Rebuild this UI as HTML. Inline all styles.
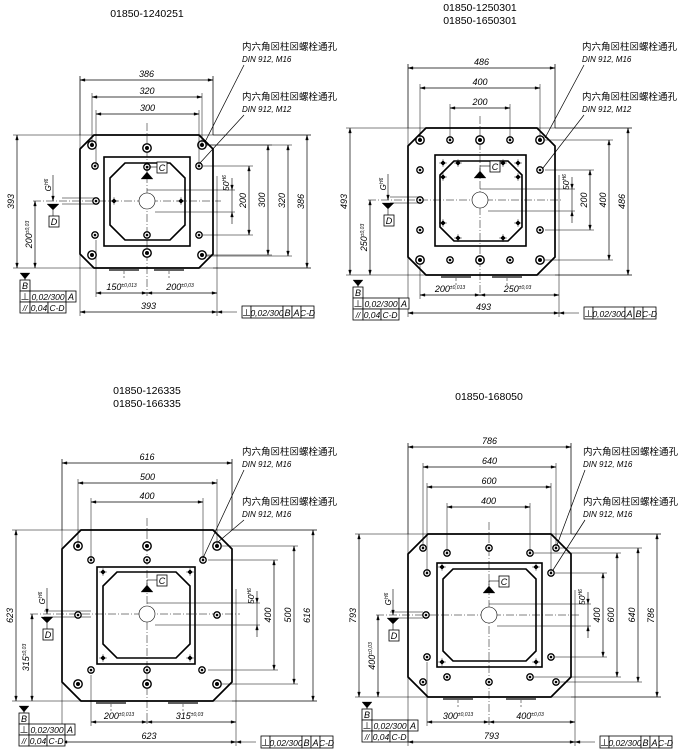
<!DOCTYPE html>
<html><head><meta charset="utf-8"><style>
html,body{margin:0;padding:0;background:#fff}
svg{display:block}
text{font-family:"Liberation Sans Narrow","Liberation Sans","Noto Sans CJK SC",sans-serif;fill:#000}
</style></head><body>
<svg id="s" width="684" height="750" viewBox="0 0 684 750" xmlns="http://www.w3.org/2000/svg"></svg>
<script>
const S=[];
function L(x1,y1,x2,y2,w,d){S.push(`<line x1="${x1}" y1="${y1}" x2="${x2}" y2="${y2}" stroke="#000" stroke-width="${w||0.7}"${d?` stroke-dasharray="${d}"`:''}/>`);}
function P(pts,fill,w){S.push(`<polygon points="${pts}" fill="${fill||'none'}" stroke="#000" stroke-width="${w||0.7}"/>`);}
function R(x,y,w,h,sw){S.push(`<rect x="${x}" y="${y}" width="${w}" height="${h}" fill="#fff" stroke="#000" stroke-width="${sw||0.8}"/>`);}
function C(x,y,r,w,fill){S.push(`<circle cx="${x}" cy="${y}" r="${r}" fill="${fill||'#fff'}" stroke="#000" stroke-width="${w||1}"/>`);}
function T(x,y,s,sz,anc,it,rot){S.push(`<text x="${x}" y="${y}" font-size="${sz||9}" text-anchor="${anc||'middle'}"${it?' font-style="italic"':''}${rot?` transform="rotate(-90 ${x} ${y})"`:''}>${s}</text>`);}
function A(x,y,dx,dy){const bx=x-dx*5,by=y-dy*5,px=-dy*1.4,py=dx*1.4;P(`${x},${y} ${bx+px},${by+py} ${bx-px},${by-py}`,'#000',0.3);}
function hdim(x1,x2,y,t){L(x1,y,x2,y);A(x1,y,-1,0);A(x2,y,1,0);T((x1+x2)/2,y-3,t,9,'middle',1);}
function vdim(x,y1,y2,t){L(x,y1,x,y2);A(x,y1,0,-1);A(x,y2,0,1);T(x-3,(y1+y2)/2,t,9,'middle',1,1);}
function frameL(x,y){R(x,y,10,11);T(x+5,y+9,'B',9,'middle',1);
 R(x,y+11,10,11);T(x+5,y+20,'⊥',9);R(x+10,y+11,36,11);T(x+28,y+20,'0,02/300',8.5,'middle',1);R(x+46,y+11,10,11);T(x+51,y+20,'A',9,'middle',1);
 R(x,y+22,10,11);T(x+5,y+31,'//',8,'middle',1);R(x+10,y+22,18,11);T(x+19,y+31,'0,04',8.5,'middle',1);R(x+28,y+22,18,11);T(x+37,y+31,'C-D',8.5,'middle',1);
 L(x+5,y,x+5,y-6);P(`${x},${y-7} ${x+10},${y-7} ${x+5},${y-1}`,'#000',0.3);}
function frameR(x,y,a,b){R(x,y,9,12);T(x+4.5,y+10,'⊥',9);R(x+9,y,32,12);T(x+25,y+10,'0,02/300',8.5,'middle',1);R(x+41,y,9,12);T(x+45.5,y+10,a,9,'middle',1);R(x+50,y,9,12);T(x+54.5,y+10,b,9,'middle',1);R(x+59,y,13,12);T(x+65.5,y+10,'C-D',8.5,'middle',1);}
function oct(x1,y1,x2,y2,c,w){P(`${x1+c},${y1} ${x2-c},${y1} ${x2},${y1+c} ${x2},${y2-c} ${x2-c},${y2} ${x1+c},${y2} ${x1},${y2-c} ${x1},${y1+c}`,'none',w);}
function big(x,y){C(x,y,4.2,1.4);C(x,y,1.6,0.8,'#000');}
function sml(x,y){C(x,y,3.2,1.3);C(x,y,1,0.6,'#000');}
function dia(x,y){P(`${x},${y-2.5} ${x+2.5},${y} ${x},${y+2.5} ${x-2.5},${y}`,'#000',0.3);L(x-4,y,x+4,y,0.4);L(x,y-4,x,y+4,0.4);}
function leader(x,y,tx,ty,m){T(x,y,'内六角⊠柱⊠螺栓通孔',9.5,'start');T(x,y+12,'DIN 912, '+m,8,'start',1);L(x+2,y+15,tx,ty,0.7);}
function draw(o){
 const {l,r,t,b,c,cx,cy}=o;
 const rmax=o.right[o.right.length-1][2];
 L(o.lx1-4,t,rmax+4,t,0.5);L(o.lx1-4,b,rmax+4,b,0.5);
 L(l,o.top[0][2]-4,l,o.ty+4,0.5);L(r,o.top[0][2]-4,r,t,0.5);L(r+4,cy-25,r+4,o.ty+4,0.5);
 oct(l,t,r,b,c,1.7);
 R(o.ir[0],o.ir[1],o.ir[2]-o.ir[0],o.ir[3]-o.ir[1],1.6);
 oct(o.oc[0],o.oc[1],o.oc[2],o.oc[3],o.oc[4],1.6);
 L(cx,t-12,cx,o.by+3,0.5,'8,2,1,2');L(o.lx2-2,cy,r+8,cy,0.5,'8,2,1,2');
 L(l+c+15,b+2,l+c+45,b+2,1.2);L(r-c-45,b+2,r-c-15,b+2,1.2);
 L(l-18,cy-3,o.sx,cy-3,0.6);L(l-18,cy+3,o.sx,cy+3,0.6);
 C(cx,cy,8,0.6);
 o.big.forEach(p=>big(p[0],p[1]));o.sml.forEach(p=>sml(p[0],p[1]));o.dia.forEach(p=>dia(p[0],p[1]));
 o.top.forEach(d=>{hdim(d[0],d[1],d[2],d[3]);L(d[0],d[2]-4,d[0],d[4],0.5);L(d[1],d[2]-4,d[1],d[4],0.5);});
 o.right.forEach(d=>{vdim(d[2],d[0],d[1],d[3]);L(d[4],d[0],d[2]+4,d[0],0.5);L(d[4],d[1],d[2]+4,d[1],0.5);});
 const fx=o.fx;L(cx,cy-11,fx+3,cy-11,0.5);L(cx+8,cy+11,fx+3,cy+11,0.5);L(fx,cy-23,fx,cy+23,0.6);A(fx,cy-11,0,1);A(fx,cy+11,0,-1);
 T(fx-3,cy-18,'50<tspan font-size="5" dy="-3">H6</tspan>',8.5,'middle',1,1);
 vdim(o.lx1,t,b,o.lt1);vdim(o.lx2,cy,b,o.lt2+'<tspan font-size="5" dy="-3">±0,03</tspan>');
 const gx=o.gx;L(gx,cy-26,gx,cy,0.6);A(gx,cy,0,1);T(gx-2,cy-16,'G<tspan font-size="5" dy="-3">H6</tspan>',8,'middle',1,1);
 P(`${gx-6},${cy+3} ${gx+6},${cy+3} ${gx},${cy+9}`,'#000',0.3);L(gx,cy+9,gx,cy+15,0.6);R(gx-4,cy+15,10,11);T(gx+1,cy+24,'D',9,'middle',1);
 P(`${cx},${cy-29} ${cx-6},${cy-22} ${cx+6},${cy-22}`,'#000',0.3);L(cx,cy-29,cx,cy-34,0.6);L(cx,cy-34,cx+10,cy-34,0.6);R(cx+10,cy-39,10,11);T(cx+15,cy-30,'C',9,'middle',1);
 const bx=o.bx;L(bx,o.bxy,bx,o.by+4,0.5);
 L(l+c+30,b+3,l+c+30,b+10,0.5,'3,2');L(r-c-30,b+3,r-c-30,b+10,0.5,'3,2');
 L(bx,o.by,r+4,o.by);A(bx,o.by,-1,0);A(cx,o.by,1,0);A(cx,o.by,-1,0);A(r+4,o.by,1,0);
 T((bx+cx)/2,o.by-3,o.b1+'<tspan font-size="5" dy="-3">±0,013</tspan>',9,'middle',1);
 T((cx+r)/2,o.by-3,o.b2+'<tspan font-size="5" dy="-3">±0,03</tspan>',9,'middle',1);
 hdim(l,r+4,o.ty,o.lt1);L(r+4,o.ty,r+24,o.ty,0.5);A(r+4,o.ty,-1,0);
 frameL(o.lx1+3,b+12);
 frameR(r+29,o.ty-6,o.fa,o.fb);
}
try{
T(147,17,'01850-1240251',10.5);
draw({l:80,r:213,t:135,b:268,c:14,cx:147,cy:201,ir:[104,157,190,246],oc:[110,163,185,240,15],sx:95,
 big:[[92,145],[202,145],[92,255],[202,255],[147,148],[147,253]],
 sml:[[95,166],[199,166],[95,235],[199,235],[147,167],[147,235],[96,201]],
 dia:[[114,201],[181,201]],
 top:[[80,213,80,'386',135],[92,202,97,'320',145],[96,199,114,'300',166]],
 right:[[166,235,249,'200',203],[145,255,268,'300',206],[145,256,288,'320',206],[135,268,307,'386',213]],
 fx:232,lx1:17,lx2:35,lt1:'393',lt2:'200',gx:53,bx:96,bxy:240,by:293,b1:'150',b2:'200',ty:312,fa:'B',fb:'A'});
leader(242,50,205,142,'M16');leader(242,100,200,163,'M12');
T(480,11,'01850-1250301',10.5);T(480,24,'01850-1650301',10.5);
draw({l:408,r:555,t:128,b:275,c:18,cx:480,cy:200,ir:[435,155,526,246],oc:[440,161,522,241,14],sx:420,
 big:[[420,140],[480,140],[540,140],[420,260],[480,260],[540,260]],
 sml:[[450,140],[510,140],[450,260],[510,260],[420,170],[540,170],[420,230],[540,230],[420,200]],
 dia:[[443,163],[458,163],[503,163],[518,163],[443,177],[518,177],[443,223],[518,223],[458,238],[503,238]],
 top:[[408,555,68,'486',128],[420,540,88,'400',140],[450,510,108,'200',140]],
 right:[[170,230,590,'200',545],[140,260,609,'400',545],[128,275,628,'486',555]],
 fx:572,lx1:350,lx2:370,lt1:'493',lt2:'250',gx:388,bx:420,bxy:265,by:295,b1:'200',b2:'250',ty:313,fa:'A',fb:'B'});
leader(582,50,545,138,'M16');leader(582,100,543,168,'M12');
T(147,394,'01850-126335',10.5);T(147,407,'01850-166335',10.5);
draw({l:62,r:232,t:530,b:701,c:19,cx:147,cy:614,ir:[97,567,195,664],oc:[103,572,190,658,14],sx:91,
 big:[[78,546],[147,546],[217,546],[78,684],[147,684],[217,684]],
 sml:[[91,560],[147,560],[203,560],[91,670],[147,670],[202,670],[78,615],[217,615]],
 dia:[[103,572],[190,572],[103,658],[190,658]],
 top:[[62,232,463,'616',530],[78,217,483,'500',546],[91,203,502,'400',560]],
 right:[[560,670,274,'400',208],[546,684,294,'500',222],[530,701,313,'616',232]],
 fx:257,lx1:16,lx2:32,lt1:'623',lt2:'315',gx:47,bx:91,bxy:675,by:722,b1:'200',b2:'315',ty:742,fa:'B',fb:'A'});
leader(242,455,203,558,'M16');leader(242,505,218,542,'M16');
T(489,400,'01850-168050',10.5);
draw({l:408,r:571,t:534,b:697,c:20,cx:489,cy:615,ir:[437,563,542,667],oc:[443,569,536,661,10],sx:423,
 big:[],
 sml:[[423,548],[447,553],[489,548],[530,553],[556,548],[427,573],[551,573],[427,657],[551,657],[423,682],[447,677],[489,682],[530,677],[556,682],[426,615]],
 dia:[[442,567],[536,567],[442,662],[536,662]],
 top:[[408,571,447,'786',534],[423,556,467,'640',548],[427,551,487,'600',573],[447,530,507,'400',553]],
 right:[[573,657,603,'400',555],[553,677,617,'600',534],[548,682,638,'640',560],[534,697,657,'786',571]],
 fx:588,lx1:359,lx2:378,lt1:'793',lt2:'400',gx:393,bx:427,bxy:662,by:722,b1:'300',b2:'400',ty:742,fa:'B',fb:'A'});
leader(583,455,557,545,'M16');leader(583,505,553,570,'M16');
}catch(e){}
document.getElementById('s').innerHTML=S.join('');
</script>
</body></html>
